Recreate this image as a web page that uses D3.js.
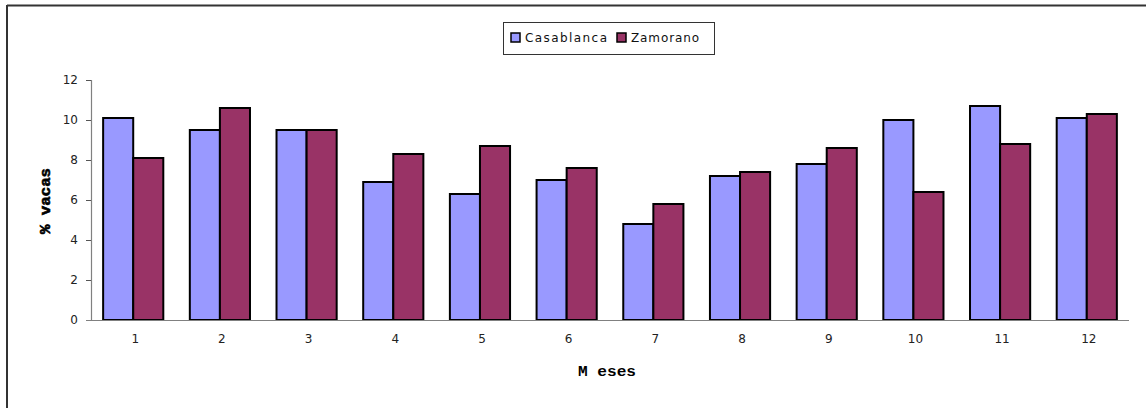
<!DOCTYPE html>
<html>
<head>
<meta charset="utf-8">
<script src="https://cdn.jsdelivr.net/npm/d3@7"></script>
<style>
  html, body { margin: 0; padding: 0; background: #fff; }
  svg { display: block; }
</style>
</head>
<body>
<svg id="chart" width="1146" height="408"></svg>
<script>
// Monthly percentage of cows, two farms
const months = ["1", "2", "3", "4", "5", "6", "7", "8", "9", "10", "11", "12"];
const casablanca = [10.1, 9.5, 9.5, 6.9, 6.3, 7.0, 4.8, 7.2, 7.8, 10.0, 10.7, 10.1];
const zamorano   = [8.1, 10.6, 9.5, 8.3, 8.7, 7.6, 5.8, 7.4, 8.6, 6.4, 8.8, 10.3];
const seriesNames = ["Casablanca", "Zamorano"];
const seriesColors = ["#9999FF", "#993366"];
const yTicks = [0, 2, 4, 6, 8, 10, 12];

const svg = d3.select("#chart");

// Outer frame (top and left edges visible)
svg.append("line").attr("x1", 7).attr("y1", 5.5).attr("x2", 1146).attr("y2", 5.5)
  .attr("stroke", "#333").attr("stroke-width", 2);
svg.append("line").attr("x1", 7).attr("y1", 5).attr("x2", 7).attr("y2", 408)
  .attr("stroke", "#333").attr("stroke-width", 2);

const plot = { left: 91, right: 1129, top: 80, bottom: 320 };

const x = d3.scaleBand().domain(months)
  .range([plot.left, plot.right])
  .paddingInner(0.306).paddingOuter(0.14);
const xSub = d3.scaleBand().domain(seriesNames).range([0, x.bandwidth()]);
const y = d3.scaleLinear().domain([0, 12]).range([plot.bottom, plot.top]);

const data = months.map((m, i) => ({ m, vals: [casablanca[i], zamorano[i]] }));

// Bars
const groups = svg.append("g").selectAll("g").data(data).join("g")
  .attr("transform", d => `translate(${x(d.m)},0)`);
groups.selectAll("rect")
  .data(d => d.vals.map((v, k) => ({ v, k })))
  .join("rect")
  .attr("x", d => xSub(seriesNames[d.k]))
  .attr("y", d => y(d.v))
  .attr("width", xSub.bandwidth())
  .attr("height", d => y(0) - y(d.v))
  .attr("fill", d => seriesColors[d.k])
  .attr("stroke", "#000")
  .attr("stroke-width", 2);

// Y axis
const yAxis = svg.append("g")
  .attr("transform", `translate(${plot.left},0)`)
  .call(d3.axisLeft(y).tickValues(yTicks).tickSize(5).tickPadding(8).tickFormat(d3.format("d")));
yAxis.select(".domain").attr("stroke", "#808080").attr("stroke-width", 1.2);
yAxis.selectAll(".tick line").attr("stroke", "#555");
yAxis.selectAll("text").attr("font-family", "'DejaVu Sans', sans-serif")
  .attr("font-size", 12).attr("fill", "#222");

// X axis
const xAxis = svg.append("g")
  .attr("transform", `translate(0,${plot.bottom})`)
  .call(d3.axisBottom(x).tickSize(0).tickPadding(14));
xAxis.select(".domain").attr("stroke", "#808080").attr("stroke-width", 1.2)
  .attr("d", `M${plot.left - 5},0.5H${plot.right}`);
xAxis.selectAll("text").attr("font-family", "'DejaVu Sans', sans-serif")
  .attr("font-size", 12).attr("fill", "#222").attr("dx", 2);

// Axis titles
svg.append("text")
  .attr("transform", "translate(50,201) rotate(-90)")
  .attr("text-anchor", "middle")
  .attr("font-family", "'Liberation Mono', 'DejaVu Sans Mono', monospace")
  .attr("font-weight", "bold").attr("font-size", 14)
  .attr("textLength", 66).attr("lengthAdjust", "spacingAndGlyphs")
  .attr("stroke", "#000").attr("stroke-width", 0.6)
  .text("% vacas");
svg.append("text")
  .attr("x", 607).attr("y", 376)
  .attr("text-anchor", "middle")
  .attr("font-family", "'Liberation Mono', 'DejaVu Sans Mono', monospace")
  .attr("font-weight", "bold").attr("font-size", 14)
  .attr("textLength", 58).attr("lengthAdjust", "spacingAndGlyphs")
  .text("M eses");

// Legend
const legend = svg.append("g");
legend.append("rect").attr("x", 503.5).attr("y", 22.5).attr("width", 211).attr("height", 32)
  .attr("fill", "#fff").attr("stroke", "#333").attr("stroke-width", 1);
const legendX = [511, 617];
const legendLen = [82, 68];
seriesNames.forEach((name, k) => {
  legend.append("rect").attr("x", legendX[k]).attr("y", 33).attr("width", 9).attr("height", 9)
    .attr("fill", seriesColors[k]).attr("stroke", "#000").attr("stroke-width", 1.5);
  legend.append("text").attr("x", legendX[k] + 14).attr("y", 42)
    .attr("font-family", "'DejaVu Sans', sans-serif")
    .attr("font-size", 12).attr("fill", "#111")
    .attr("textLength", legendLen[k]).attr("lengthAdjust", "spacing")
    .text(name);
});
</script>
</body>
</html>
